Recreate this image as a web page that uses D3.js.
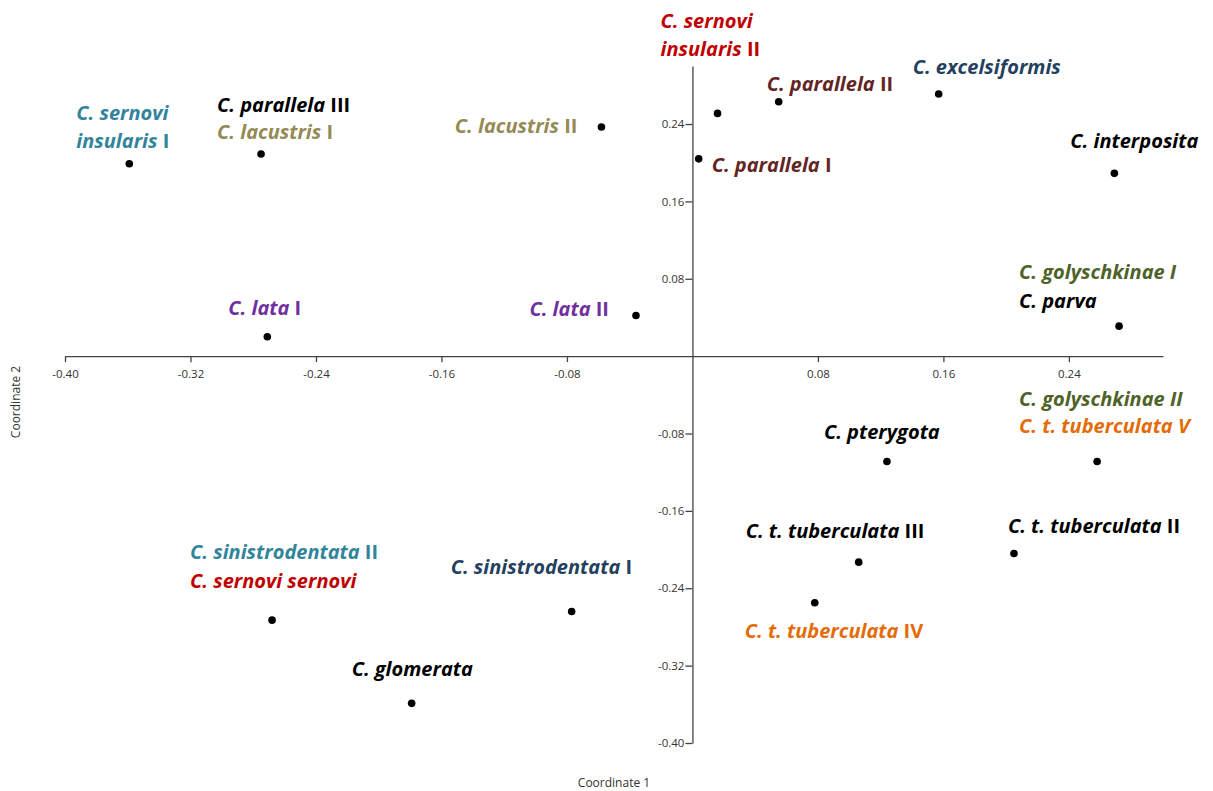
<!DOCTYPE html>
<html lang="en">
<head>
    <meta charset="UTF-8">
    <title>PCoA Coordinate 1 / Coordinate 2</title>
    <script src="https://cdnjs.cloudflare.com/ajax/libs/d3/7.8.5/d3.min.js"></script>
    <style>
        body { margin: 0; background: #fff; }
        .tick text { font-family: "Open Sans", sans-serif; font-size: 11.5px; fill: #333; }
        .lbl { font-family: "Open Sans", sans-serif; font-size: 20px; font-weight: bold; }
    </style>
</head>
<body>

<script>
    var width = 1213,
        height = 791;

    // one point per taxon / population
    var coord1 = [-0.359, -0.275, -0.058, 0.016, 0.004, 0.055, 0.157, 0.269, 0.272, -0.271,
                  -0.036, 0.124, 0.258, 0.106, 0.205, 0.078, -0.077, -0.268, -0.179];
    var coord2 = [0.199, 0.209, 0.237, 0.251, 0.204, 0.263, 0.271, 0.189, 0.031, 0.020,
                  0.042, -0.109, -0.109, -0.213, -0.204, -0.255, -0.264, -0.273, -0.359];

    // label lines, *...* = italic part
    var labelText = [
        ["*C. sernovi*", "*insularis* I"],
        ["*C. parallela* III", "*C. lacustris* I"],
        ["*C. lacustris* II"],
        ["*C. sernovi*", "*insularis* II"],
        ["*C. parallela* I"],
        ["*C. parallela* II"],
        ["*C. excelsiformis*"],
        ["*C. interposita*"],
        ["*C. golyschkinae I*", "*C. parva*"],
        ["*C. lata* I"],
        ["*C. lata* II"],
        ["*C. pterygota*"],
        ["*C. golyschkinae II*", "*C. t. tuberculata V*"],
        ["*C. t. tuberculata* III"],
        ["*C. t. tuberculata* II"],
        ["*C. t. tuberculata* IV"],
        ["*C. sinistrodentata* I"],
        ["*C. sinistrodentata* II", "*C. sernovi sernovi*"],
        ["*C. glomerata*"]
    ];
    var labelColor = [
        ["#31849b", "#31849b"],
        ["#000", "#948a54"],
        ["#948a54"],
        ["#c00000", "#c00000"],
        ["#632523"],
        ["#632523"],
        ["#243f60"],
        ["#000"],
        ["#4f6228", "#000"],
        ["#7030a0"],
        ["#7030a0"],
        ["#000"],
        ["#4f6228", "#e36c09"],
        ["#000"],
        ["#000"],
        ["#e36c09"],
        ["#243f60"],
        ["#31849b", "#c00000"],
        ["#000"]
    ];

    var xTicks = [-0.40, -0.32, -0.24, -0.16, -0.08, 0.08, 0.16, 0.24],
        yTicks = [0.24, 0.16, 0.08, -0.08, -0.16, -0.24, -0.32, -0.40];

    // label placement: [dx, dy, anchor, line height] relative to the dot
    var labelPos = [
        [-53, -44, "start", 28], [-44, -42, "start", 27], [-24, 6, "end", 0],
        [-57, -85, "start", 28], [13, 13, "start", 0], [-12, -11, "start", 0],
        [-26, -20, "start", 0], [-44, -25, "start", 0], [-100, -47, "start", 29],
        [-39, -22, "start", 0], [-27, 0, "end", 0], [-63, -23, "start", 0],
        [-78, -56, "start", 27], [-113, -24, "start", 0], [-6, -20, "start", 0],
        [-70, 35, "start", 0], [-121, -37, "start", 0], [-82, -61, "start", 29],
        [-60, -27, "start", 0]
    ];

    var svg = d3.select("body").append("svg")
        .attr("width", width)
        .attr("height", height);

    var x = d3.scaleLinear().domain([-0.40, 0.30]).range([65, 1163]),
        y = d3.scaleLinear().domain([-0.40, 0.30]).range([743, 66]);

    var fmt = function (d) { return d.toFixed(2); };

    var xAxis = svg.append("g")
        .attr("transform", "translate(0," + y(0) + ")")
        .call(d3.axisBottom(x).tickValues(xTicks).tickFormat(fmt).tickSize(6).tickSizeOuter(0));
    var yAxis = svg.append("g")
        .attr("transform", "translate(" + x(0) + ",0)")
        .call(d3.axisLeft(y).tickValues(yTicks).tickFormat(fmt).tickSize(7).tickSizeOuter(0));

    [xAxis, yAxis].forEach(function (g) {
        g.select(".domain").attr("stroke", "#444").attr("stroke-width", 1.3);
        g.selectAll(".tick line").attr("stroke", "#444").attr("stroke-width", 1.3);
    });
    xAxis.selectAll(".tick text").attr("dy", "1.1em");
    yAxis.selectAll(".tick text").attr("x", -8);

    // axis titles
    svg.append("text")
        .attr("x", 614).attr("y", 787)
        .attr("text-anchor", "middle")
        .style("font-family", "'Open Sans', sans-serif").style("font-size", "12px").style("fill", "#333")
        .text("Coordinate 1");
    svg.append("text")
        .attr("transform", "translate(20,402) rotate(-90)")
        .attr("text-anchor", "middle")
        .style("font-family", "'Open Sans', sans-serif").style("font-size", "12px").style("fill", "#333")
        .text("Coordinate 2");

    var pts = coord1.map(function (d, i) { return { x: d, y: coord2[i], i: i }; });

    svg.selectAll("circle.pt").data(pts)
        .enter().append("circle")
        .attr("class", "pt")
        .attr("cx", function (d) { return x(d.x); })
        .attr("cy", function (d) { return y(d.y); })
        .attr("r", 3.8)
        .attr("fill", "#000");

    // labels, italic spans marked with *
    pts.forEach(function (d) {
        var p = labelPos[d.i];
        labelText[d.i].forEach(function (line, k) {
            var t = svg.append("text")
                .attr("class", "lbl")
                .attr("x", x(d.x) + p[0])
                .attr("y", y(d.y) + p[1] + k * p[3])
                .attr("text-anchor", p[2])
                .style("fill", labelColor[d.i][k]);
            line.split("*").forEach(function (part, j) {
                if (!part) return;
                t.append("tspan")
                    .style("font-style", j % 2 === 1 ? "italic" : "normal")
                    .text(part);
            });
        });
    });
</script>

</body>
</html>
